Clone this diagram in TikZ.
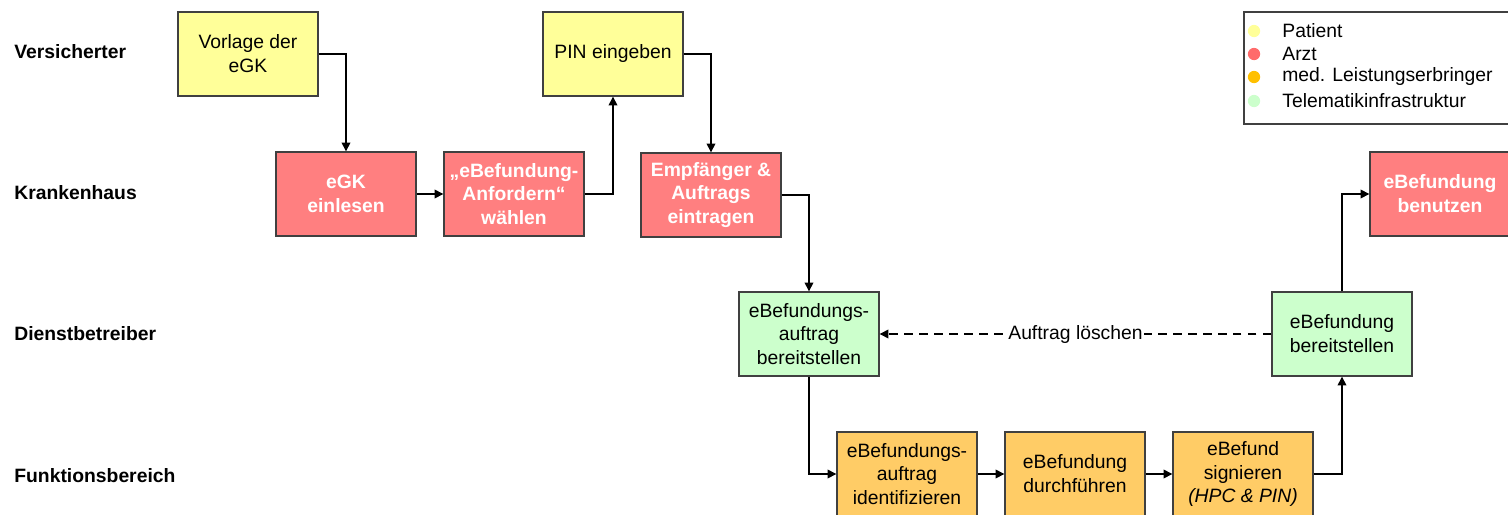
\documentclass[tikz,border=0pt]{standalone}
\usepackage{fontspec}
\setmainfont{Liberation Sans}
\usetikzlibrary{arrows.meta}
\definecolor{patient}{HTML}{FFFF99}
\definecolor{arzt}{HTML}{FF7F80}
\definecolor{leister}{HTML}{FFCC66}
\definecolor{telematik}{HTML}{CCFFCC}
\definecolor{arztdot}{HTML}{FF6B6B}
\definecolor{leisterdot}{HTML}{FFC000}
\begin{document}
\begin{tikzpicture}[x=0.02cm, y=-0.02cm, >={Triangle[length=5pt,width=5pt]},
  box/.style={draw=black!75, line width=0.8pt, minimum width=2.8cm, minimum height=1.68cm,
    align=center, inner sep=2pt, font=\fontsize{11}{13.6}\selectfont},
  pat/.style={box, fill=patient},
  arzt/.style={box, fill=arzt, text=white, font=\fontsize{11}{13.6}\selectfont\bfseries},
  leist/.style={box, fill=leister},
  tele/.style={box, fill=telematik},
  lane/.style={anchor=west, inner sep=0pt, font=\fontsize{11}{13.6}\selectfont\bfseries},
  legtext/.style={anchor=west, inner sep=0pt, font=\fontsize{11}{13.6}\selectfont},
  flow/.style={->, line width=0.8pt}]
\clip (0,0) rectangle (1508,514);
\node[lane] (l1) at (14,52) {Versicherter};
\node[lane] (l2) at (14,193) {Krankenhaus};
\node[lane] (l3) at (14,334) {Dienstbetreiber};
\node[lane] (l4) at (14,476) {Funktionsbereich};
\node[pat] (vorlage) at (248,54) {Vorlage der\\eGK};
\node[pat] (pin) at (613,54) {PIN eingeben};
\node[arzt] (einlesen) at (346,194) {eGK\\einlesen};
\node[arzt] (anfordern) at (514,194) {„eBefundung-\\Anfordern“\\wählen};
\node[arzt] (empf) at (711,195) {Empfänger \&\\Auftrags\\eintragen};
\node[arzt] (benutzen) at (1440,194) {eBefundung\\benutzen};
\node[tele] (auftrag) at (809,334) {eBefundungs-\\auftrag\\bereitstellen};
\node[tele] (bereit) at (1342,334) {eBefundung\\bereitstellen};
\node[leist] (ident) at (907,474) {eBefundungs-\\auftrag\\identifizieren};
\node[leist] (durch) at (1075,474) {eBefundung\\durchführen};
\node[leist] (sign) at (1243,474) {eBefund\\signieren\\\textit{(HPC \& PIN)}};
\draw[flow] (vorlage) -| (einlesen);
\draw[flow] (einlesen) -- (anfordern);
\draw[flow] (anfordern) -| (pin);
\draw[flow] (pin) -| (empf);
\draw[flow] (empf) -| (auftrag);
\draw[flow] (auftrag) |- (ident);
\draw[flow] (ident) -- (durch);
\draw[flow] (durch) -- (sign);
\draw[flow] (sign) -| (bereit);
\draw[flow] (bereit) |- (benutzen);
\draw[flow, dashed, dash pattern=on 5pt off 3.5pt] (bereit) -- node[fill=white, inner sep=1pt, font=\fontsize{11}{13.6}\selectfont] (loeschen) {Auftrag löschen} (auftrag);
\draw[black!75, line width=0.8pt] (1244,12) rectangle (1530,124);
\fill[patient] (1254,31) circle (3.5pt);
\fill[arztdot] (1254,54) circle (3.5pt);
\fill[leisterdot] (1254,77) circle (3.5pt);
\fill[telematik] (1254,101) circle (3.5pt);
\node[legtext] (t1) at (1282,31) {Patient};
\node[legtext] (t2) at (1282,54) {Arzt};
\node[legtext] (t3) at (1282,77) {med. Leistungserbringer};
\node[legtext] (t4) at (1282,101) {Telematikinfrastruktur};
\end{tikzpicture}
\end{document}
